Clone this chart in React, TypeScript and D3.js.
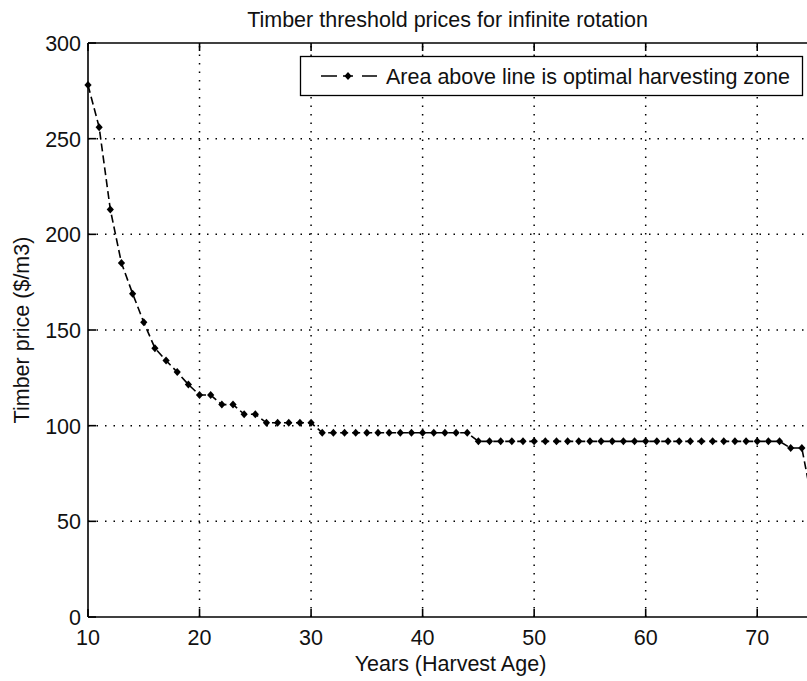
import React from "react";
import * as d3 from "d3";

// harvest age (years) and threshold timber price ($/m3)
const years = [
  10, 11, 12, 13, 14, 15, 16, 17, 18, 19, 20, 21, 22, 23, 24, 25,
  26, 27, 28, 29, 30,
  31, 32, 33, 34, 35, 36, 37, 38, 39, 40, 41, 42, 43, 44,
  45, 46, 47, 48, 49, 50, 51, 52, 53, 54, 55, 56, 57, 58, 59, 60,
  61, 62, 63, 64, 65, 66, 67, 68, 69, 70, 71, 72,
  73, 74, 75,
];
const prices = [
  278, 256, 213, 185, 169, 154, 140.5, 134, 128, 121.5, 116, 116, 111, 111, 106, 106,
  101.5, 101.5, 101.5, 101.5, 101.5,
  96.3, 96.3, 96.3, 96.3, 96.3, 96.3, 96.3, 96.3, 96.3, 96.3, 96.3, 96.3, 96.3, 96.3,
  91.8, 91.8, 91.8, 91.8, 91.8, 91.8, 91.8, 91.8, 91.8, 91.8, 91.8, 91.8, 91.8, 91.8, 91.8, 91.8,
  91.8, 91.8, 91.8, 91.8, 91.8, 91.8, 91.8, 91.8, 91.8, 91.8, 91.8, 91.8,
  88.3, 88.3, 58,
];
const xTicks = [10, 20, 30, 40, 50, 60, 70];
const yTicks = [0, 50, 100, 150, 200, 250, 300];

const title = "Timber threshold prices for infinite rotation";
const xLabel = "Years (Harvest Age)";
const yLabel = "Timber price ($/m3)";
const legendLabel = "Area above line is optimal harvesting zone";

const W = 807;
const H = 681;
// the axes run past the right edge of the picture (cropped figure)
const margin = { left: 88, right: -6, top: 43, bottom: 64 };
const font = "'Liberation Sans', Arial, sans-serif";
const fs = 21.5;

export default function App() {
  const x = d3.scaleLinear().domain([10, 75]).range([margin.left, W - margin.right]);
  const y = d3.scaleLinear().domain([0, 300]).range([H - margin.bottom, margin.top]);
  const data = years.map((yr, i) => ({ yr, p: prices[i] }));
  const line = d3.line<{ yr: number; p: number }>().x(d => x(d.yr)).y(d => y(d.p));
  const diamond = (cx: number, cy: number) =>
    `M${cx},${cy - 4}L${cx + 3.6},${cy}L${cx},${cy + 4}L${cx - 3.6},${cy}Z`;

  const [x0, x1] = x.range();
  const [y0, y1] = y.range();
  const tickLen = 8;

  return (
    <svg width={W} height={H} style={{ position: "absolute", left: 0, top: 0, background: "#fff" }}
      fontFamily={font}>
      <rect width={W} height={H} fill="#fff" />
      {/* grid */}
      <g stroke="#000" strokeWidth={1.5} strokeDasharray="1.5,7">
        {xTicks.filter(t => t !== 10).map(t => (
          <line key={"gx" + t} x1={x(t)} x2={x(t)} y1={y0} y2={y1} />
        ))}
        {yTicks.filter(t => t !== 0 && t !== 300).map(t => (
          <line key={"gy" + t} x1={x0} x2={x1} y1={y(t)} y2={y(t)} />
        ))}
      </g>
      {/* data */}
      <path d={line(data) || ""} fill="none" stroke="#000" strokeWidth={1.6} strokeDasharray="8,4" />
      <g fill="#000">
        {data.map(d => (
          <path key={d.yr} d={diamond(x(d.yr), y(d.p))} />
        ))}
      </g>
      {/* axes box */}
      <g stroke="#000" strokeWidth={1.6} fill="none">
        <line x1={x0} x2={x1} y1={y0} y2={y0} />
        <line x1={x0} x2={x1} y1={y1} y2={y1} />
        <line x1={x0} x2={x0} y1={y0} y2={y1} />
        <line x1={x1} x2={x1} y1={y0} y2={y1} />
        {xTicks.map(t => (
          <g key={"tx" + t}>
            <line x1={x(t)} x2={x(t)} y1={y0} y2={y0 - tickLen} />
            <line x1={x(t)} x2={x(t)} y1={y1} y2={y1 + tickLen} />
          </g>
        ))}
        {yTicks.map(t => (
          <line key={"ty" + t} x1={x0} x2={x0 + tickLen} y1={y(t)} y2={y(t)} />
        ))}
      </g>
      {/* tick labels */}
      <g fontSize={fs} fill="#111">
        {xTicks.map(t => (
          <text key={"lx" + t} x={x(t)} y={y0 + 28} textAnchor="middle">{t}</text>
        ))}
        {yTicks.map(t => (
          <text key={"ly" + t} x={x0 - 7} y={y(t) + 8} textAnchor="end">{t}</text>
        ))}
      </g>
      {/* labels */}
      <g fill="#111" fontSize={fs}>
        <text x={(x0 + x1) / 2 - 3} y={27} textAnchor="middle">{title}</text>
        <text x={(x0 + x1) / 2} y={671} textAnchor="middle">{xLabel}</text>
        <text transform={`translate(29,${(y0 + y1) / 2}) rotate(-90)`} textAnchor="middle">
          {yLabel}
        </text>
      </g>
      {/* legend */}
      <g>
        <rect x={300.5} y={56.5} width={502} height={39} fill="#fff" stroke="#000" strokeWidth={1.3} />
        <line x1={321} x2={377} y1={76} y2={76} stroke="#000" strokeWidth={1.6}
          strokeDasharray="16,6,10,9,15" />
        <path d={diamond(348, 76)} fill="#000" />
        <text x={386} y={84} fontSize={fs} fill="#111">{legendLabel}</text>
      </g>
    </svg>
  );
}
